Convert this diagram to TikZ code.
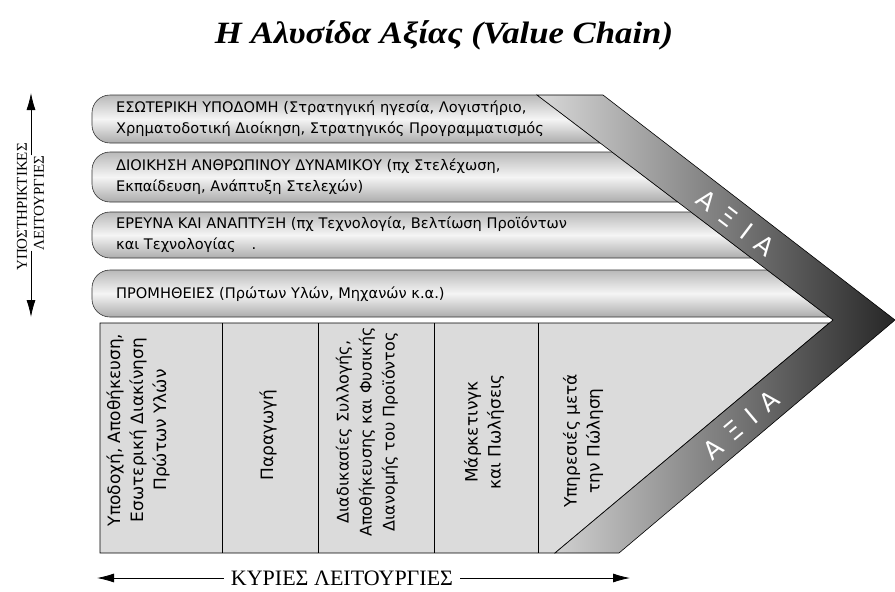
\documentclass[tikz,border=0pt]{standalone}
\usepackage{graphicx}
\usepackage{fontspec}
\setmainfont{Liberation Serif}
\newfontfamily\chainfont{DejaVu Sans}
\usetikzlibrary{arrows.meta,calc}

\tikzset{
  bar/.style={draw=black!80, line width=0.6pt, top color=gray!55, bottom color=gray!65, middle color=white!92!gray},
  bartext/.style={anchor=west, align=left, inner sep=0pt, font=\chainfont\fontsize{14.6}{21}\selectfont},
  primtext/.style={rotate=90, align=center, inner sep=0pt, font=\chainfont\fontsize{17}{23}\selectfont},
  divider/.style={draw=black, line width=0.8pt},
  band/.style={draw=black, line width=0.6pt, left color=gray!30, right color=black!85},
  bandtext/.style={text=white, inner sep=0pt, font=\chainfont\fontsize{25}{25}\selectfont},
  sidetext/.style={rotate=90, inner sep=0pt, font=\fontsize{15}{16}\selectfont},
  longarrow/.style={-{Latex[length=17pt,width=9pt]}, line width=0.8pt}
}

\begin{document}
\begin{tikzpicture}[x=1pt,y=-1pt]
  \useasboundingbox (0,0) rectangle (895,592);

  % corners of the value band
  \coordinate (intop) at (537,95);
  \coordinate (outtop) at (603,95);
  \coordinate (tip) at (833,320);
  \coordinate (outtip) at (895,320);
  \coordinate (inbot) at (555,553);
  \coordinate (outbot) at (619,553);

  % title
  \node (title) at (444,35) {\scalebox{1.12}[1]{\fontsize{31}{33}\selectfont\bfseries\itshape Η Αλυσίδα Αξίας (Value Chain)}};

  % support activities
  \foreach \t/\b in {95/143,152/202,212/258,270/317}{
    \path[bar] (130,\b) [rounded corners=18pt] -- (92,\b) -- (92,\t) -- (130,\t) [sharp corners]
      -- ($(intop)!{(\t-95)/225}!(tip)$) -- ($(intop)!{(\b-95)/225}!(tip)$) -- cycle;
  }
  \node[bartext] (infra) at (116,119) {ΕΣΩΤΕΡΙΚΗ ΥΠΟΔΟΜΗ (Στρατηγική ηγεσία, Λογιστήριο,\\Χρηματοδοτική Διοίκηση, Στρατηγικός Προγραμματισμός};
  \node[bartext] (hrm) at (116,177) {ΔΙΟΙΚΗΣΗ ΑΝΘΡΩΠΙΝΟΥ ΔΥΝΑΜΙΚΟΥ (πχ Στελέχωση,\\Εκπαίδευση, Ανάπτυξη Στελεχών)};
  \node[bartext] (rnd) at (116,235) {ΕΡΕΥΝΑ ΚΑΙ ΑΝΑΠΤΥΞΗ (πχ Τεχνολογία, Βελτίωση Προϊόντων\\και Τεχνολογίας\hspace{16pt}.};
  \node[bartext] (proc) at (116,294) {ΠΡΟΜΗΘΕΙΕΣ (Πρώτων Υλών, Μηχανών κ.α.)};

  % primary activities
  \path[fill=gray!28, draw=black, line width=0.8pt] (100,323) -- ($(tip)!{3/233}!(inbot)$) -- (inbot) -- (100,553) -- cycle;
  \foreach \x in {222,318,434,538}
    \draw[divider] (\x,323) -- (\x,553);

  \node[primtext] (inlog) at (138,430) {Υποδοχή, Αποθήκευση,\\Εσωτερική Διακίνηση\\Πρώτων Υλών};
  \node[primtext] (ops) at (268,435) {Παραγωγή};
  \node[primtext, font=\chainfont\fontsize{16}{23}\selectfont] (outlog) at (367,432) {Διαδικασίες Συλλογής,\\Αποθήκευσης και Φυσικής\\Διανομής του Προϊόντος};
  \node[primtext] (mkt) at (484,432) {Μάρκετινγκ\\και Πωλήσεις};
  \node[primtext] (serv) at (583,441) {Υπηρεσιές μετά\\την Πώληση};

  % value band
  \path[band] (intop) -- (outtop) -- (outtip) -- (outbot) -- (inbot) -- (tip) -- cycle;
  \node[bandtext, rotate=-37.2] (valtop) at (736,223) {Α\hspace{11pt}Ξ\hspace{11pt}Ι\hspace{11pt}Α};
  \node[bandtext, rotate=40] (valbot) at (741,425) {Α\hspace{11pt}Ξ\hspace{11pt}Ι\hspace{11pt}Α};

  % side labels
  \node[sidetext] (suplabel) at (22,207) {ΥΠΟΣΤΗΡΙΚΤΙΚΕΣ};
  \node[sidetext] (funclabel) at (39,203) {ΛΕΙΤΟΥΡΓΙΕΣ};
  \coordinate (suptop) at (31,93);
  \coordinate (supbot) at (31,317);
  \draw[longarrow] (suptop |- funclabel.east) -- (suptop);
  \draw[longarrow] (supbot |- funclabel.west) -- (supbot);

  \node[inner sep=7pt, font=\fontsize{22}{24}\selectfont] (primlabel) at (342,578) {ΚΥΡΙΕΣ ΛΕΙΤΟΥΡΓΙΕΣ};
  \coordinate (pleft) at (97,578);
  \coordinate (pright) at (630,578);
  \draw[longarrow] (primlabel.west) -- (pleft);
  \draw[longarrow] (primlabel.east) -- (pright);
\end{tikzpicture}
\end{document}
